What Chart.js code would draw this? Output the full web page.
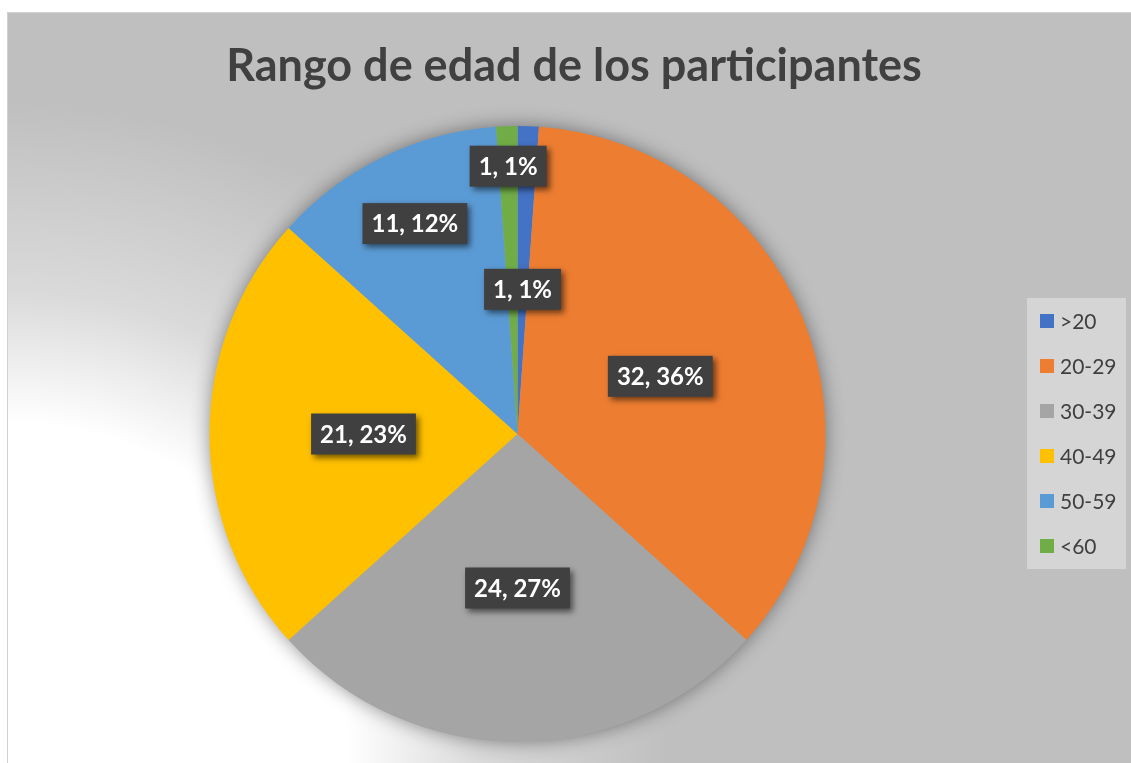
<!DOCTYPE html>
<html>
<head>
<meta charset="utf-8">
<script src="https://cdn.jsdelivr.net/npm/chart.js@4/dist/chart.umd.min.js"></script>
<style>
html,body{margin:0;padding:0;background:#fff;}
canvas{display:block;}
</style>
</head>
<body>
<canvas id="c" width="1131" height="763"></canvas>
<script>
const titleText = 'Rango de edad de los participantes';
const categories = ['>20', '20-29', '30-39', '40-49', '50-59', '<60'];
const values = [1, 32, 24, 21, 11, 1];
const colors = ['#4472C4', '#ED7D31', '#A5A5A5', '#FFC000', '#5B9BD5', '#70AD47'];

const W = 1131, H = 763;
const FONT = 'Lato, "Open Sans", sans-serif';

const bgPlugin = {
  id: 'bg',
  beforeDraw(chart) {
    const ctx = chart.ctx;
    ctx.save();
    ctx.fillStyle = '#ffffff';
    ctx.fillRect(0, 0, W, H);
    const g = ctx.createRadialGradient(8, 763, 0, 8, 763, 660);
    g.addColorStop(0, '#ffffff');
    g.addColorStop(340 / 660, '#ffffff');
    g.addColorStop(470 / 660, '#DADADA');
    g.addColorStop(1, '#BFBFBF');
    ctx.fillStyle = g;
    ctx.fillRect(7, 12, W - 7, H - 12);
    ctx.strokeStyle = '#D0D0D0';
    ctx.lineWidth = 1;
    ctx.beginPath();
    ctx.moveTo(7.5, H); ctx.lineTo(7.5, 12.5); ctx.lineTo(W, 12.5);
    ctx.stroke();
    // title
    ctx.fillStyle = '#404040';
    ctx.font = 'bold 45px ' + FONT;
    ctx.textAlign = 'center';
    ctx.textBaseline = 'alphabetic';
    ctx.fillText(titleText, 574, 81);
    ctx.restore();
  },
  beforeDatasetsDraw(chart) {
    const arc = chart.getDatasetMeta(0).data[0];
    if (!arc) return;
    const ctx = chart.ctx;
    ctx.save();
    ctx.shadowColor = 'rgba(0,0,0,0.45)';
    ctx.shadowBlur = 20;
    ctx.fillStyle = '#A5A5A5';
    ctx.beginPath();
    ctx.arc(arc.x, arc.y, arc.outerRadius - 1, 0, Math.PI * 2);
    ctx.fill();
    ctx.restore();
  }
};

const labelPlugin = {
  id: 'sliceLabels',
  afterDatasetsDraw(chart, args, opts) {
    const ctx = chart.ctx;
    const meta = chart.getDatasetMeta(0);
    const data = chart.data.datasets[0].data;
    const total = data.reduce((a, b) => a + b, 0);
    ctx.save();
    ctx.font = 'bold 24px ' + FONT;
    ctx.textAlign = 'center';
    ctx.textBaseline = 'middle';
    meta.data.forEach((arc, i) => {
      const mid = (arc.startAngle + arc.endAngle) / 2;
      const f = opts.radial[i];
      const x = arc.x + Math.cos(mid) * arc.outerRadius * f;
      const y = arc.y + Math.sin(mid) * arc.outerRadius * f;
      const txt = data[i] + ', ' + Math.round(data[i] / total * 100) + '%';
      const tw = ctx.measureText(txt).width;
      const bw = tw + 18, bh = 41;
      ctx.save();
      ctx.shadowColor = 'rgba(0,0,0,0.55)';
      ctx.shadowBlur = 6;
      ctx.shadowOffsetX = 3;
      ctx.shadowOffsetY = 3;
      ctx.fillStyle = '#404040';
      ctx.fillRect(x - bw / 2, y - bh / 2, bw, bh);
      ctx.restore();
      ctx.fillStyle = '#ffffff';
      ctx.fillText(txt, x, y + 1);
    });
    ctx.restore();
  }
};

const legendPlugin = {
  id: 'customLegend',
  afterDraw(chart) {
    const ctx = chart.ctx;
    ctx.save();
    ctx.fillStyle = '#D5D5D5';
    ctx.fillRect(1027, 298, 99, 271);
    ctx.font = '21px ' + FONT;
    ctx.textAlign = 'left';
    ctx.textBaseline = 'middle';
    chart.data.labels.forEach((lab, i) => {
      const cy = 321 + i * 45;
      ctx.fillStyle = chart.data.datasets[0].backgroundColor[i];
      ctx.fillRect(1040, cy - 7, 14, 14);
      ctx.fillStyle = '#404040';
      ctx.fillText(lab, 1060, cy + 1);
    });
    ctx.restore();
  }
};

new Chart(document.getElementById('c'), {
  type: 'pie',
  data: {
    labels: categories,
    datasets: [{
      data: values,
      backgroundColor: colors,
      borderWidth: 0
    }]
  },
  options: {
    responsive: false,
    animation: false,
    devicePixelRatio: 1,
    events: [],
    layout: { padding: { left: 209, right: 305, top: 126, bottom: 21 } },
    plugins: {
      legend: { display: false },
      title: { display: false },
      tooltip: { enabled: false },
      sliceLabels: { radial: [0.47, 0.5, 0.5, 0.5, 0.76, 0.87] }
    }
  },
  plugins: [bgPlugin, labelPlugin, legendPlugin]
});
</script>
</body>
</html>
